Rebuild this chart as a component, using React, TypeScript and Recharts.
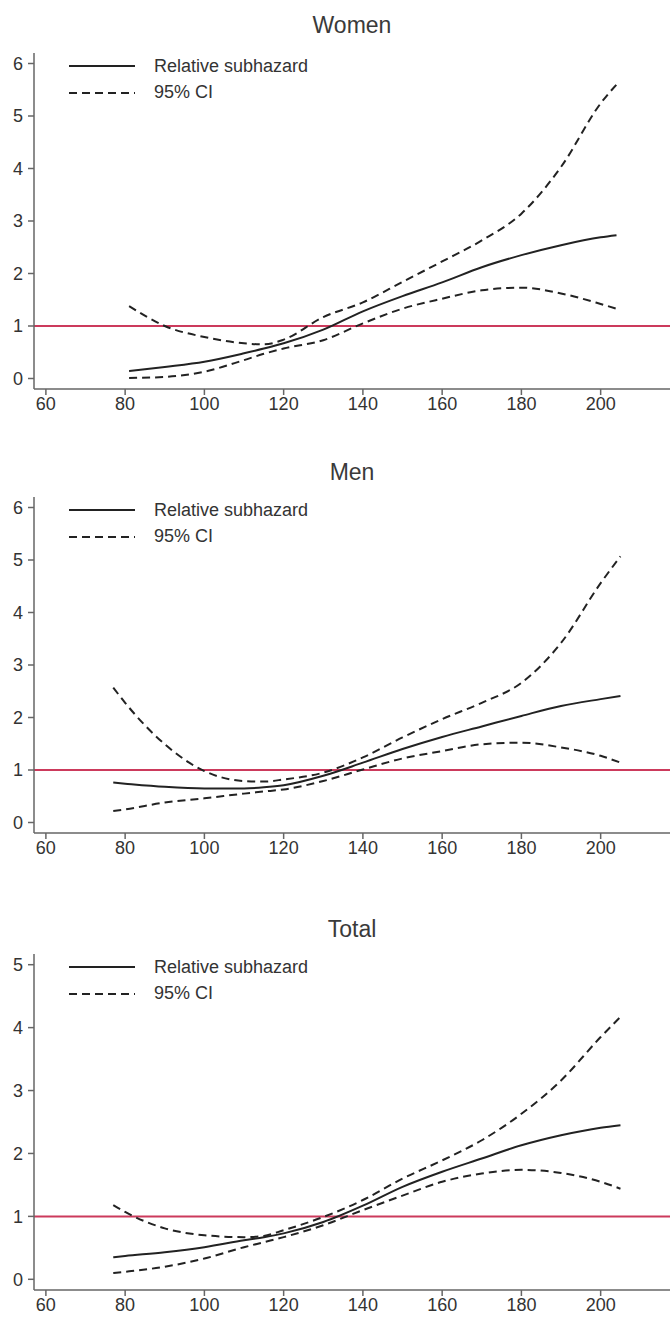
import React from 'react'
import {
  LineChart,
  Line,
  XAxis,
  YAxis,
  ReferenceLine,
  Legend,
} from 'recharts'

// blood pressure (x) against relative subhazard, three groups
const womenX = [81, 90, 100, 110, 115, 120, 130, 140, 150, 160, 170, 180, 190, 200, 204]
const womenEst = [0.14, 0.22, 0.32, 0.48, 0.57, 0.67, 0.93, 1.28, 1.57, 1.83, 2.12, 2.35, 2.54, 2.69, 2.73]
const womenHi = [1.38, 1.0, 0.79, 0.67, 0.65, 0.74, 1.17, 1.45, 1.84, 2.23, 2.63, 3.14, 4.03, 5.24, 5.6]
const womenLo = [0.01, 0.03, 0.13, 0.35, 0.47, 0.57, 0.73, 1.05, 1.33, 1.52, 1.68, 1.73, 1.62, 1.42, 1.33]

const menX = [77, 80, 90, 100, 110, 115, 120, 130, 140, 150, 160, 170, 180, 190, 200, 205]
const menEst = [0.76, 0.74, 0.68, 0.65, 0.65, 0.67, 0.71, 0.89, 1.14, 1.4, 1.63, 1.83, 2.03, 2.22, 2.35, 2.41]
const menHi = [2.57, 2.28, 1.49, 0.98, 0.79, 0.78, 0.82, 0.95, 1.24, 1.62, 1.97, 2.28, 2.66, 3.42, 4.56, 5.07]
const menLo = [0.22, 0.25, 0.38, 0.46, 0.55, 0.59, 0.63, 0.79, 1.01, 1.22, 1.36, 1.49, 1.52, 1.43, 1.27, 1.14]

const totalX = [77, 80, 90, 100, 110, 115, 120, 130, 140, 150, 160, 170, 180, 190, 200, 205]
const totalEst = [0.35, 0.37, 0.43, 0.51, 0.62, 0.67, 0.73, 0.91, 1.17, 1.47, 1.71, 1.92, 2.13, 2.29, 2.41, 2.45]
const totalHi = [1.18, 1.07, 0.81, 0.7, 0.67, 0.69, 0.78, 0.99, 1.26, 1.6, 1.89, 2.21, 2.63, 3.16, 3.85, 4.17]
const totalLo = [0.1, 0.12, 0.2, 0.33, 0.51, 0.59, 0.67, 0.86, 1.1, 1.33, 1.55, 1.68, 1.74, 1.69, 1.55, 1.44]

const xTicks = [60, 80, 100, 120, 140, 160, 180, 200]
const yTicks6 = [0, 1, 2, 3, 4, 5, 6]
const yTicks5 = [0, 1, 2, 3, 4, 5]

const FONT = '"Liberation Sans", Arial, Helvetica, sans-serif'
const TEXT = '#333'
const AXIS = '#666'
const INK = '#222'
const RED = '#cc3a5c'
const CI = '95% CI'

function buildRows(xs: number[], est: number[], lo: number[], hi: number[]) {
  return xs.map((x, i) => ({ x, est: est[i], lo: lo[i], hi: hi[i] }))
}

function LegendBox(props: any) {
  const items = (props.payload || [])
    .filter((p: any) => p.type !== 'none')
    .slice()
    .sort((a: any, b: any) => (a.value === CI ? 1 : 0) - (b.value === CI ? 1 : 0))
  return (
    <div style={{ fontFamily: FONT, fontSize: 18, color: TEXT }}>
      {items.map((p: any) => {
        const dashed = p.value === CI
        return (
          <div
            key={p.value}
            style={{ display: 'flex', alignItems: 'center', height: 26.6 }}
          >
            <svg width={66} height={4} style={{ marginLeft: 69 }}>
              <line
                x1={0}
                y1={2}
                x2={66}
                y2={2}
                stroke={INK}
                strokeWidth={2}
                strokeDasharray={dashed ? '8 5' : undefined}
              />
            </svg>
            <span style={{ marginLeft: 19, whiteSpace: 'pre' }}>{p.value}</span>
          </div>
        )
      })}
    </div>
  )
}

type PanelProps = {
  title: string
  top: number
  marginTop: number
  titleBaseline: number
  rows: { x: number; est: number; lo: number; hi: number }[]
  yDomain: [number, number]
  yTicks: number[]
}

function Panel({ title, top, marginTop, titleBaseline, rows, yDomain, yTicks }: PanelProps) {
  const height = marginTop + 336 + 30
  return (
    <div style={{ position: 'absolute', left: 0, top, width: 670, height }}>
      <div
        style={{
          position: 'absolute',
          left: 34,
          width: 636,
          top: titleBaseline - 19.5,
          textAlign: 'center',
          fontFamily: FONT,
          fontSize: 23,
          lineHeight: '23px',
          color: '#3a3a3a',
        }}
      >
        {title}
      </div>
      <LineChart
        width={670}
        height={height}
        data={rows}
        margin={{ top: marginTop, right: 0, bottom: 0, left: 0 }}
      >
        <XAxis
          dataKey="x"
          type="number"
          domain={[57, 217.5]}
          ticks={xTicks}
          allowDataOverflow
          height={30}
          tickSize={6}
          tickMargin={2}
          stroke={AXIS}
          strokeWidth={1.5}
          tick={{ fill: TEXT, fontSize: 18, fontFamily: FONT }}
        />
        <YAxis
          type="number"
          domain={yDomain}
          ticks={yTicks}
          allowDataOverflow
          width={34}
          tickSize={6}
          tickMargin={5}
          stroke={AXIS}
          strokeWidth={1.5}
          tick={{ fill: TEXT, fontSize: 18, fontFamily: FONT }}
        />
        <ReferenceLine y={1} stroke={RED} strokeWidth={2} />
        <Legend
          layout="horizontal"
          verticalAlign="middle"
          align="center"
          content={LegendBox}
          wrapperStyle={{ left: 0, top: marginTop, width: 320 }}
        />
        <Line
          type="monotone"
          dataKey="est"
          name="Relative subhazard"
          stroke={INK}
          strokeWidth={2}
          dot={false}
          isAnimationActive={false}
        />
        <Line
          type="monotone"
          dataKey="lo"
          name={CI}
          stroke={INK}
          strokeWidth={2}
          strokeDasharray="8 5"
          dot={false}
          isAnimationActive={false}
        />
        <Line
          type="monotone"
          dataKey="hi"
          name="95% CI upper"
          legendType="none"
          stroke={INK}
          strokeWidth={2}
          strokeDasharray="8 5"
          dot={false}
          isAnimationActive={false}
        />
      </LineChart>
    </div>
  )
}

export default function App() {
  return (
    <div
      style={{
        position: 'absolute',
        left: 0,
        top: 0,
        width: 670,
        height: 1319,
        background: '#fff',
        overflow: 'hidden',
      }}
    >
      <Panel
        title="Women"
        top={0}
        marginTop={53}
        titleBaseline={33.3}
        rows={buildRows(womenX, womenEst, womenLo, womenHi)}
        yDomain={[-0.2, 6.2]}
        yTicks={yTicks6}
      />
      <Panel
        title="Men"
        top={440}
        marginTop={57}
        titleBaseline={40}
        rows={buildRows(menX, menEst, menLo, menHi)}
        yDomain={[-0.2, 6.2]}
        yTicks={yTicks6}
      />
      <Panel
        title="Total"
        top={880}
        marginTop={74}
        titleBaseline={57}
        rows={buildRows(totalX, totalEst, totalLo, totalHi)}
        yDomain={[-0.17, 5.17]}
        yTicks={yTicks5}
      />
    </div>
  )
}
